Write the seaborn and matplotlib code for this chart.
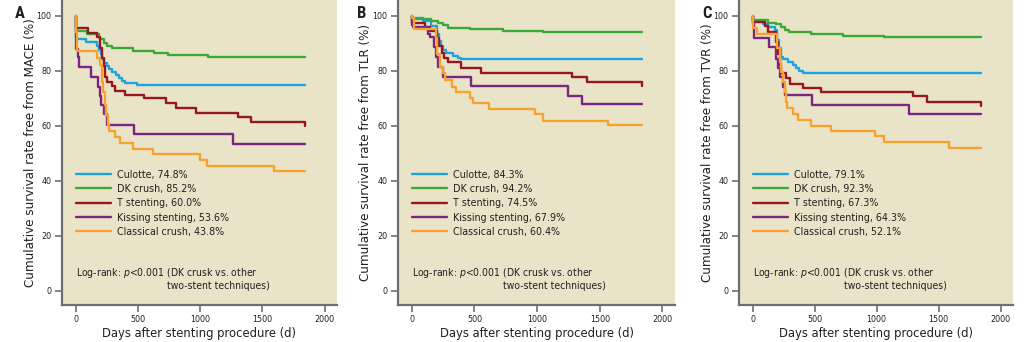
import os
import dataclasses
import matplotlib
matplotlib.use("Agg")
import matplotlib.pyplot as plt
from matplotlib import font_manager as fm
from matplotlib.textpath import TextPath
import pandas as pd
import seaborn as sns

# ---- Kaplan-Meier step data (day of step, survival % after step) ----
TECHNIQUES = ["Culotte", "DK crush", "T stenting", "Kissing stenting", "Classical crush"]
END_DAY = 1840

# Panel A: freedom from MACE
mace_culotte_days = [0, 3, 85, 170, 185, 200, 215, 230, 250, 270, 295, 320, 345, 375, 400, 490]
mace_culotte_surv = [100, 91.5, 90.5, 89, 87.5, 86, 84.5, 83, 81.8, 80.6, 79.5, 78.5, 77.5, 76.5, 75.5, 74.8]
mace_dk_days = [0, 3, 89, 184, 198, 225, 250, 290, 460, 630, 740, 1060]
mace_dk_surv = [100, 94.5, 93.5, 92.5, 91.5, 90.2, 88.9, 88.2, 87.3, 86.5, 85.8, 85.2]
mace_t_days = [0, 3, 100, 168, 197, 211, 224, 238, 251, 292, 319, 400, 549, 722, 803, 965, 1303, 1411, 1840]
mace_t_surv = [100, 95.5, 93.8, 92.2, 88.5, 84.8, 81.8, 77.8, 76.1, 74.5, 72.8, 71.2, 70.0, 68.5, 66.5, 64.8, 63.2, 61.4, 60.0]
mace_kiss_days = [0, 1, 5, 15, 30, 125, 180, 195, 205, 228, 248, 467, 1265]
mace_kiss_surv = [100, 92.5, 88, 85, 81.5, 77.7, 74.2, 70.8, 67.6, 64.3, 60.4, 57.0, 53.6]
mace_classic_days = [0, 5, 10, 170, 195, 215, 222, 236, 245, 258, 265, 312, 356, 464, 623, 996, 1058, 1592]
mace_classic_surv = [100, 94, 87.2, 84.6, 82.2, 76, 72.4, 67.6, 64.0, 60.4, 58.0, 55.9, 53.8, 51.8, 49.8, 47.6, 45.6, 43.8]

# Panel B: freedom from TLR
tlr_culotte_days = [0, 2, 90, 150, 200, 215, 230, 250, 270, 330, 365, 395]
tlr_culotte_surv = [100, 99.2, 98, 96.5, 93.5, 91, 89, 87.8, 86.6, 85.5, 84.8, 84.3]
tlr_dk_days = [0, 5, 156, 209, 249, 289, 461, 726, 1046]
tlr_dk_surv = [100, 98.9, 98.3, 97.6, 96.6, 95.8, 95.2, 94.7, 94.2]
tlr_t_days = [0, 5, 105, 145, 205, 220, 240, 255, 290, 395, 550, 1280, 1395, 1840]
tlr_t_surv = [100, 97.3, 96.1, 94.5, 92, 89, 86.5, 84.8, 83.1, 81.2, 79.4, 77.7, 75.9, 74.5]
tlr_kiss_days = [0, 2, 10, 130, 143, 177, 195, 209, 249, 469, 1250, 1360]
tlr_kiss_surv = [100, 96.7, 96.1, 93.6, 92.2, 88.8, 85.2, 81.5, 77.9, 74.5, 71.0, 67.9]
tlr_classic_days = [0, 5, 18, 190, 205, 225, 250, 262, 323, 355, 461, 487, 620, 980, 1046, 1567]
tlr_classic_surv = [100, 99.3, 95.3, 92, 86, 81.5, 79.1, 76.7, 74.3, 72.2, 70.1, 68.2, 66.1, 64.2, 61.9, 60.4]

# Panel C: freedom from TVR
tvr_culotte_days = [0, 3, 85, 125, 178, 200, 215, 230, 245, 284, 324, 350, 375, 404]
tvr_culotte_surv = [100, 98.3, 97.0, 96.1, 95.0, 91.3, 88.3, 85.2, 84.4, 83.2, 82.2, 81.0, 80.0, 79.1]
tvr_dk_days = [0, 5, 125, 191, 231, 258, 292, 470, 729, 1056]
tvr_dk_surv = [100, 98.5, 97.6, 97.0, 95.9, 94.9, 94.1, 93.4, 92.8, 92.3]
tvr_t_days = [0, 3, 98, 125, 191, 205, 218, 232, 271, 298, 404, 550, 1290, 1407, 1840]
tvr_t_surv = [100, 97.8, 96.5, 94.0, 90.6, 86.0, 82.0, 79.2, 77.4, 75.3, 73.8, 72.5, 70.9, 68.8, 67.3]
tvr_kiss_days = [0, 2, 13, 133, 191, 204, 218, 245, 258, 478, 1263]
tvr_kiss_surv = [100, 97.3, 92.1, 88.8, 84.5, 80.9, 77.8, 74.2, 71.2, 67.8, 64.3]
tvr_classic_days = [0, 5, 37, 197, 218, 231, 245, 258, 271, 279, 324, 364, 471, 630, 990, 1056, 1580]
tvr_classic_surv = [100, 95.5, 93.3, 88.2, 83.3, 79.6, 76.0, 72.4, 68.7, 66.5, 64.2, 62.0, 60.0, 58.1, 56.2, 54.2, 52.1]

PANELS = [
    ("A", "Cumulative survival rate free from MACE (%)",
     [(mace_culotte_days, mace_culotte_surv), (mace_dk_days, mace_dk_surv),
      (mace_t_days, mace_t_surv), (mace_kiss_days, mace_kiss_surv),
      (mace_classic_days, mace_classic_surv)]),
    ("B", "Cumulative survival rate free from TLR (%)",
     [(tlr_culotte_days, tlr_culotte_surv), (tlr_dk_days, tlr_dk_surv),
      (tlr_t_days, tlr_t_surv), (tlr_kiss_days, tlr_kiss_surv),
      (tlr_classic_days, tlr_classic_surv)]),
    ("C", "Cumulative survival rate free from TVR (%)",
     [(tvr_culotte_days, tvr_culotte_surv), (tvr_dk_days, tvr_dk_surv),
      (tvr_t_days, tvr_t_surv), (tvr_kiss_days, tvr_kiss_surv),
      (tvr_classic_days, tvr_classic_surv)]),
]

X_TICKS = [0, 500, 1000, 1500, 2000]
Y_TICKS = [0, 20, 40, 60, 80, 100]
X_LABEL = "Days after stenting procedure (d)"
NOTE_1 = r"Log-rank: $\it{p}$<0.001 (DK crusk vs. other"
NOTE_2 = "two-stent techniques)"

COLORS = ["#1ba3e2", "#3ba838", "#981620", "#7b2482", "#f6a22d"]
BG = "#e9e4c8"
SPINE = "#6e6e6e"
TEXT = "#231f20"

DPI = 100
W, H = 1033, 342

sns.set_theme(style="ticks")

# ---- narrow text face ----
NARROW_FILES = [
    ("LiberationSansNarrow-Regular.ttf", "LiberationSansNarrow-Italic.ttf"),
    ("NotoSans-Condensed.ttf", "NotoSans-CondensedItalic.ttf"),
    ("NotoSans_Condensed-Regular.ttf", "NotoSans_Condensed-Italic.ttf"),
    ("DejaVuSansCondensed.ttf", "DejaVuSansCondensed-Oblique.ttf"),
    ("RobotoCondensed-Regular.ttf", "RobotoCondensed-Italic.ttf"),
]


def narrow_family():
    files = {os.path.basename(f.fname): f.fname for f in fm.fontManager.ttflist}
    for regular, italic in NARROW_FILES:
        if regular in files:
            for path in (files[regular], files.get(italic)):
                if path:
                    entry = fm.ttfFontProperty(fm.get_font(path))
                    fm.fontManager.ttflist.append(dataclasses.replace(entry, name="Narrow Sans"))
            return "Narrow Sans"
    names = {f.name for f in fm.fontManager.ttflist}
    return "Roboto Condensed" if "Roboto Condensed" in names else "DejaVu Sans"


FAMILY = narrow_family()
plt.rcParams["font.family"] = [FAMILY, "DejaVu Sans"]
plt.rcParams["mathtext.fontset"] = "custom"
plt.rcParams["mathtext.rm"] = FAMILY
plt.rcParams["mathtext.it"] = f"{FAMILY}:italic"


def fit_size(text, width_px):
    """Font size (pt) at which `text` spans width_px pixels."""
    prop = fm.FontProperties(family=[FAMILY, "DejaVu Sans"], size=10)
    w = TextPath((0, 0), text, prop=prop).get_extents().width
    return 10 * width_px * 72 / (DPI * w)


FS_LABEL = fit_size(X_LABEL, 192)
FS_YLABEL = fit_size("Cumulative survival rate free from MACE (%)", 266)
FS_LEGEND = fit_size("Kissing stenting, 53.6%", 111)
FS_NOTE = fit_size("Log-rank: p<0.001 (DK crusk vs. other", 178)
FS_TICK = fit_size("1500", 19)

fig = plt.figure(figsize=(W / DPI, H / DPI), dpi=DPI)

# axes boxes in pixels: (left, right)
boxes = [(62, 337), (398, 675), (739, 1013)]
AX_TOP, AX_BOTTOM = 0, 305
AX_H = AX_BOTTOM - AX_TOP
label_x_px = [31, 366, 707]
letter_x_px = [20, 362, 707]


def curve_frame(curves):
    frames = []
    labels = []
    for name, (days, surv) in zip(TECHNIQUES, curves):
        d = list(days)
        s = list(surv)
        if d[-1] < END_DAY:
            d.append(END_DAY)
            s.append(s[-1])
        lab = f"{name}, {surv[-1]:.1f}%"
        labels.append(lab)
        frames.append(pd.DataFrame({"day": d, "surv": s, "group": lab}))
    return pd.concat(frames, ignore_index=True), labels


leg_px = FS_LEGEND * DPI / 72
row_h = 1.17 * leg_px

for (letter, ylabel, curves), (l, r), lx, ltx in zip(PANELS, boxes, label_x_px, letter_x_px):
    aw = r - l
    ax = fig.add_axes([l / W, (H - AX_BOTTOM) / H, aw / W, AX_H / H])
    ax.set_facecolor(BG)
    df, labels = curve_frame(curves)
    sns.lineplot(data=df, x="day", y="surv", hue="group", hue_order=labels,
                 palette=COLORS, estimator=None, sort=False,
                 drawstyle="steps-post", linewidth=1.7, ax=ax)

    ax.set_xlim(-110, 2100)
    ax.set_ylim(-5.1, 105.8)
    ax.set_xticks(X_TICKS)
    ax.set_yticks(Y_TICKS)
    ax.tick_params(axis="both", direction="out", length=5, width=1.2,
                   color=SPINE, labelsize=FS_TICK, labelcolor=TEXT, pad=2.5)
    for side in ("top", "right"):
        ax.spines[side].set_visible(False)
    for side in ("left", "bottom"):
        ax.spines[side].set_color(SPINE)
        ax.spines[side].set_linewidth(1.6)

    ax.set_xlabel(X_LABEL, fontsize=FS_LABEL, color=TEXT)
    ax.xaxis.set_label_coords(0.5, -(333 - AX_BOTTOM) / AX_H)
    ax.set_ylabel(ylabel, fontsize=FS_YLABEL, color=TEXT)
    ax.yaxis.set_label_coords((lx - l) / aw, 0.5)
    ax.xaxis.label.set_va("center")
    ax.yaxis.label.set_va("center")

    handles, _ = ax.get_legend_handles_labels()
    leg = ax.legend(handles, labels, loc="upper left",
                    bbox_to_anchor=(14 / aw, (AX_BOTTOM - (176 - row_h / 2)) / AX_H),
                    frameon=False, fontsize=FS_LEGEND,
                    handlelength=35 / leg_px, handletextpad=6 / leg_px,
                    labelspacing=max(16.8 - row_h, 0) / leg_px,
                    borderaxespad=0, borderpad=0)
    for t in leg.get_texts():
        t.set_color(TEXT)

    ax.text(14 / aw, (AX_BOTTOM - 273) / AX_H, NOTE_1,
            transform=ax.transAxes, fontsize=FS_NOTE, color=TEXT, va="center", ha="left")
    ax.text(105 / aw, (AX_BOTTOM - 286) / AX_H, NOTE_2,
            transform=ax.transAxes, fontsize=FS_NOTE, color=TEXT, va="center", ha="left")

    fig.text(ltx / W, 1 - 14 / H, letter, fontsize=12, fontweight="bold",
             family=["Roboto Condensed", "DejaVu Sans"],
             color=TEXT, ha="center", va="center")

fig.savefig("out.png", dpi=DPI, facecolor="white")
